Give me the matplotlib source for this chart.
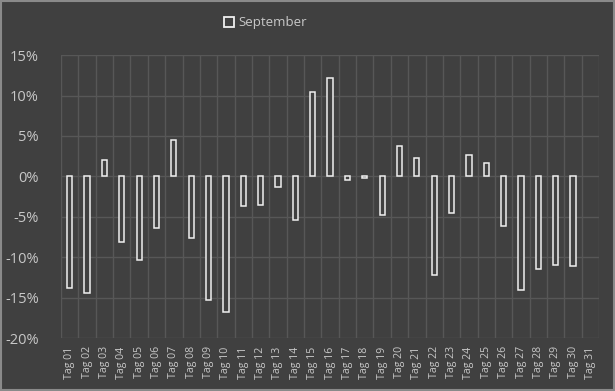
import matplotlib
matplotlib.use("Agg")
import matplotlib.pyplot as plt
import matplotlib.patches as mpatches
import numpy as np

tage = ["Tag %02d" % i for i in range(1, 32)]
september = [-13.8, -14.4, 2.0, -8.1, -10.4, -6.4, 4.5, -7.6, -15.3, -16.8,
             -3.7, -3.6, -1.3, -5.4, 10.5, 12.2, -0.45, -0.2, -4.8, 3.7,
             2.3, -12.2, -4.5, 2.7, 1.6, -6.2, -14.0, -11.4, -11.0, -11.1,
             np.nan]
yticks = [-20, -15, -10, -5, 0, 5, 10, 15]

bg = "#404040"
grid = "#575757"
txt = "#c8c8c8"

plt.rcParams['font.family'] = ['Open Sans', 'DejaVu Sans']

fig = plt.figure(figsize=(6.15, 3.91), dpi=100, facecolor=bg)
fig.patches.append(mpatches.Rectangle((0.002, 0.003), 0.996, 0.994, transform=fig.transFigure,
                                      fill=False, edgecolor="#8a8a8a", linewidth=1.5))
ax = fig.add_axes([0.0992, 0.1355, 0.875, 0.7235])
ax.set_facecolor(bg)

x = np.arange(len(tage))
bars = ax.bar(x, september, width=0.3, facecolor=bg, edgecolor="#f0f0f0",
              linewidth=1.1, label="September", zorder=3)

ax.set_xlim(-0.5, len(tage) - 0.5)
ax.set_ylim(-20, 15)
ax.set_yticks(yticks)
ax.set_yticklabels(["%d%%" % v for v in yticks], color=txt, fontsize=10.5)
ax.set_xticks(x)
ax.set_xticklabels(tage, rotation=90, color=txt, fontsize=7.6)
ax.set_xticks(np.arange(len(tage) + 1) - 0.5, minor=True)
ax.tick_params(axis="y", length=0, pad=16)
ax.tick_params(axis="x", length=0, pad=6)
ax.tick_params(axis="x", which="minor", length=0)
ax.grid(axis="y", color=grid, linewidth=1, zorder=0)
ax.grid(axis="x", which="minor", color=grid, linewidth=1, zorder=0)
ax.grid(axis="x", which="major", visible=False)
for s in ax.spines.values():
    s.set_visible(False)

leg = fig.legend(handles=[mpatches.Patch(facecolor=bg, edgecolor="#f0f0f0", linewidth=1.3, label="September")],
                 loc="center", bbox_to_anchor=(0.432, 0.942), frameon=False, fontsize=9.5,
                 handlelength=0.75, handleheight=0.8, handletextpad=0.3)
for t in leg.get_texts():
    t.set_color(txt)

fig.savefig("out.png", dpi=100, facecolor=bg)
